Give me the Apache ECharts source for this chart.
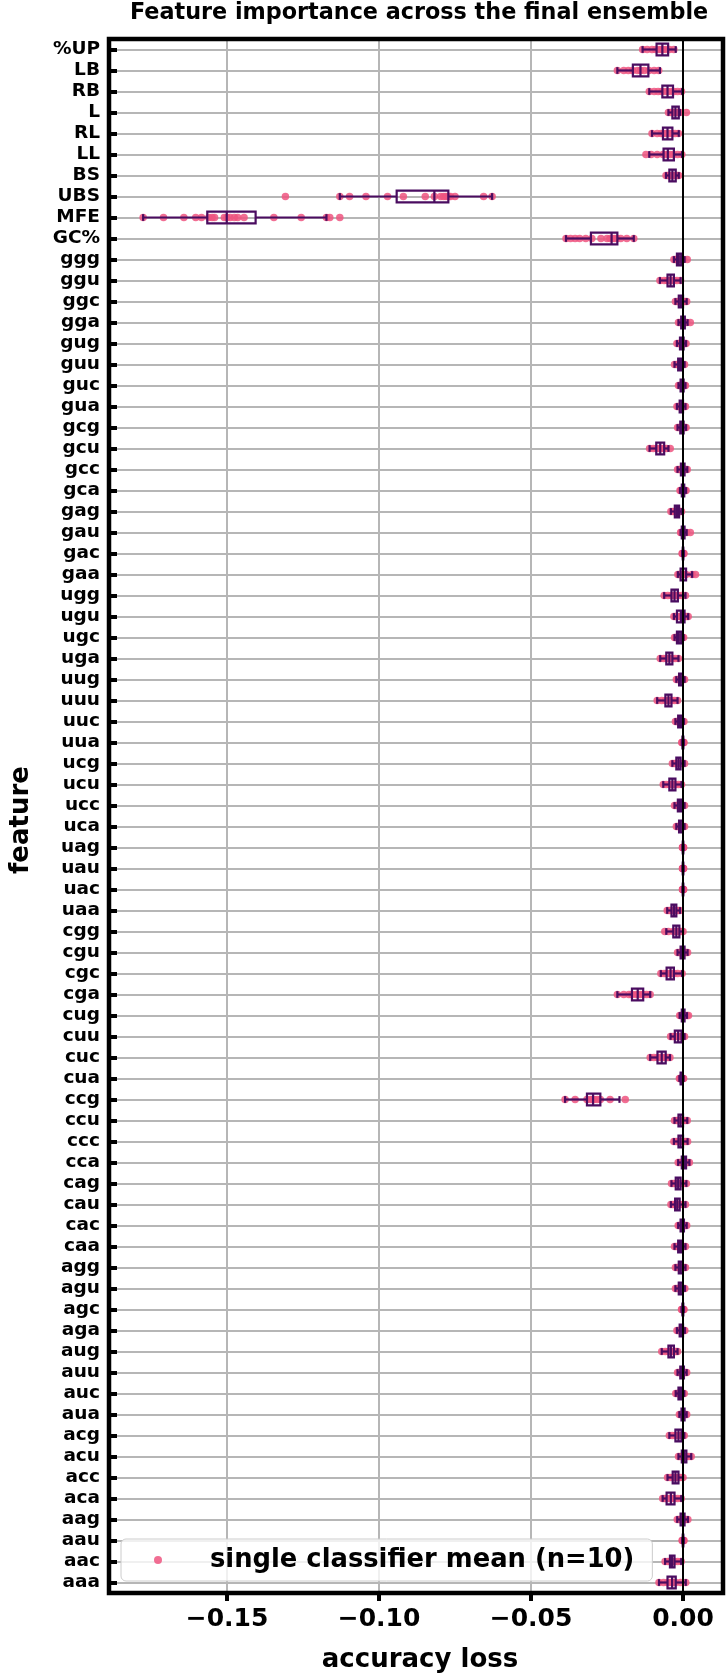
<!DOCTYPE html>
<html>
<head>
<meta charset="utf-8">
<script src="https://cdn.jsdelivr.net/npm/echarts@6/dist/echarts.min.js"></script>
<style>
  html, body { margin: 0; padding: 0; background: #fff; }
  #chart { width: 726px; height: 1678px; }
</style>
</head>
<body>
<div id="chart"></div>
<script>
const features = ['%UP', 'LB', 'RB', 'L', 'RL', 'LL', 'BS', 'UBS', 'MFE', 'GC%',
  'ggg', 'ggu', 'ggc', 'gga', 'gug', 'guu', 'guc', 'gua', 'gcg', 'gcu', 'gcc', 'gca',
  'gag', 'gau', 'gac', 'gaa', 'ugg', 'ugu', 'ugc', 'uga', 'uug', 'uuu', 'uuc', 'uua',
  'ucg', 'ucu', 'ucc', 'uca', 'uag', 'uau', 'uac', 'uaa', 'cgg', 'cgu', 'cgc', 'cga',
  'cug', 'cuu', 'cuc', 'cua', 'ccg', 'ccu', 'ccc', 'cca', 'cag', 'cau', 'cac', 'caa',
  'agg', 'agu', 'agc', 'aga', 'aug', 'auu', 'auc', 'aua', 'acg', 'acu', 'acc', 'aca',
  'aag', 'aau', 'aac', 'aaa']

// box statistics: [whisker low, Q1, median, Q3, whisker high]
const boxStats = [
  [-0.0133, -0.0087, -0.0068, -0.0049, -0.0024], // %UP
  [-0.0216, -0.0165, -0.0140, -0.0114, -0.0076], // LB
  [-0.0111, -0.0068, -0.0051, -0.0033, -0.0003], // RB
  [-0.0048, -0.0035, -0.0025, -0.0014, -0.0010], // L
  [-0.0102, -0.0066, -0.0051, -0.0035, -0.0014], // RL
  [-0.0111, -0.0064, -0.0050, -0.0030, -0.0003], // LL
  [-0.0056, -0.0045, -0.0035, -0.0024, -0.0014], // BS
  [-0.1129, -0.0942, -0.0818, -0.0772, -0.0628], // UBS
  [-0.1776, -0.1565, -0.1501, -0.1406, -0.1173], // MFE
  [-0.0385, -0.0303, -0.0235, -0.0216, -0.0162], // GC%
  [-0.0030, -0.0020, -0.0014, -0.0006, 0.0005],
  [-0.0076, -0.0051, -0.0041, -0.0030, -0.0008],
  [-0.0025, -0.0014, -0.0007, 0.0000, 0.0012],
  [-0.0015, -0.0006, 0.0000, 0.0006, 0.0015],
  [-0.0020, -0.0010, -0.0004, 0.0002, 0.0010],
  [-0.0028, -0.0016, -0.0010, -0.0004, 0.0005],
  [-0.0015, -0.0008, -0.0003, 0.0002, 0.0008],
  [-0.0020, -0.0011, -0.0005, 0.0000, 0.0008],
  [-0.0018, -0.0009, -0.0004, 0.0002, 0.0010],
  [-0.0110, -0.0088, -0.0075, -0.0062, -0.0048], // gcu
  [-0.0018, -0.0007, -0.0001, 0.0005, 0.0014],
  [-0.0010, -0.0004, 0.0000, 0.0004, 0.0010],
  [-0.0040, -0.0027, -0.0020, -0.0013, -0.0005],
  [-0.0008, -0.0004, 0.0000, 0.0005, 0.0012],
  [-0.0003, -0.0001, 0.0000, 0.0001, 0.0003],
  [-0.0017, -0.0008, 0.0000, 0.0010, 0.0030],
  [-0.0062, -0.0038, -0.0028, -0.0017, 0.0008], // ugg
  [-0.0030, -0.0020, -0.0007, 0.0005, 0.0017],
  [-0.0028, -0.0020, -0.0014, -0.0006, 0.0002],
  [-0.0075, -0.0055, -0.0045, -0.0035, -0.0015],
  [-0.0022, -0.0013, -0.0008, -0.0002, 0.0005],
  [-0.0085, -0.0058, -0.0048, -0.0038, -0.0018], // uuu
  [-0.0025, -0.0016, -0.0010, -0.0004, 0.0003],
  [-0.0004, -0.0002, 0.0000, 0.0001, 0.0003],
  [-0.0035, -0.0022, -0.0015, -0.0008, 0.0005],
  [-0.0065, -0.0045, -0.0035, -0.0025, -0.0005],
  [-0.0028, -0.0017, -0.0010, -0.0004, 0.0005],
  [-0.0022, -0.0013, -0.0008, -0.0002, 0.0005],
  [-0.0002, -0.0001, 0.0000, 0.0001, 0.0002],
  [-0.0002, -0.0001, 0.0000, 0.0001, 0.0002],
  [-0.0002, -0.0001, 0.0000, 0.0001, 0.0002],
  [-0.0052, -0.0038, -0.0030, -0.0022, -0.0010], // uaa
  [-0.0055, -0.0032, -0.0022, -0.0012, 0.0000],
  [-0.0018, -0.0008, -0.0003, 0.0005, 0.0015],
  [-0.0073, -0.0054, -0.0041, -0.0030, -0.0003],
  [-0.0216, -0.0168, -0.0149, -0.0131, -0.0108], // cga
  [-0.0011, -0.0004, 0.0000, 0.0005, 0.0013],
  [-0.0041, -0.0027, -0.0016, -0.0005, 0.0005],
  [-0.0108, -0.0084, -0.0070, -0.0057, -0.0043], // cuc
  [-0.0012, -0.0008, -0.0005, -0.0002, 0.0002],
  [-0.0388, -0.0316, -0.0296, -0.0272, -0.0209], // ccg
  [-0.0028, -0.0015, -0.0008, 0.0000, 0.0014],
  [-0.0030, -0.0015, -0.0008, 0.0000, 0.0015],
  [-0.0016, -0.0004, 0.0003, 0.0010, 0.0021],
  [-0.0038, -0.0024, -0.0016, -0.0008, 0.0011],
  [-0.0040, -0.0026, -0.0019, -0.0011, 0.0008],
  [-0.0016, -0.0008, -0.0003, 0.0003, 0.0012],
  [-0.0028, -0.0016, -0.0010, -0.0003, 0.0008],
  [-0.0025, -0.0014, -0.0008, -0.0002, 0.0008],
  [-0.0025, -0.0014, -0.0008, -0.0002, 0.0006],
  [-0.0005, -0.0002, -0.0001, 0.0001, 0.0003],
  [-0.0020, -0.0011, -0.0006, 0.0000, 0.0006],
  [-0.0070, -0.0048, -0.0040, -0.0030, -0.0018], // aug
  [-0.0018, -0.0009, -0.0004, 0.0003, 0.0012],
  [-0.0024, -0.0015, -0.0010, -0.0004, 0.0004],
  [-0.0012, -0.0005, 0.0000, 0.0005, 0.0012],
  [-0.0045, -0.0025, -0.0015, -0.0005, 0.0004],
  [-0.0015, -0.0004, 0.0004, 0.0011, 0.0027],
  [-0.0051, -0.0034, -0.0025, -0.0015, 0.0000],
  [-0.0067, -0.0054, -0.0040, -0.0028, -0.0006],
  [-0.0019, -0.0008, -0.0002, 0.0005, 0.0016],
  [-0.0003, -0.0001, 0.0000, 0.0001, 0.0003],
  [-0.0059, -0.0043, -0.0036, -0.0028, -0.0006],
  [-0.0079, -0.0051, -0.0036, -0.0024, 0.0009]  // aaa
]

// single classifier means (pink dots), one list per feature
const classifierMeans = [
  [-0.0133, -0.0118, -0.0102, -0.0090, -0.0080, -0.0072, -0.0065, -0.0056, -0.0045, -0.0030],
  [-0.0216, -0.0195, -0.0180, -0.0166, -0.0150, -0.0140, -0.0128, -0.0112, -0.0095, -0.0080],
  [-0.0111, -0.0095, -0.0082, -0.0070, -0.0060, -0.0050, -0.0040, -0.0030, -0.0018, -0.0005],
  [-0.0048, -0.0040, -0.0034, -0.0030, -0.0026, -0.0022, -0.0018, -0.0014, -0.0010, 0.0011],
  [-0.0102, -0.0085, -0.0072, -0.0064, -0.0056, -0.0050, -0.0044, -0.0036, -0.0026, -0.0015],
  [-0.0122, -0.0105, -0.0085, -0.0066, -0.0058, -0.0050, -0.0042, -0.0032, -0.0018, -0.0004],
  [-0.0056, -0.0050, -0.0045, -0.0041, -0.0037, -0.0033, -0.0029, -0.0024, -0.0019, -0.0014],
  [-0.1308, -0.1129, -0.1097, -0.1043, -0.0972, -0.0920, -0.0848, -0.0818, -0.0797, -0.0788, -0.0780, -0.0772, -0.0765, -0.0750, -0.0656, -0.0628],
  [-0.1776, -0.1709, -0.1642, -0.1603, -0.1584, -0.1560, -0.1549, -0.1541, -0.1509, -0.1500, -0.1490, -0.1476, -0.1465, -0.1444, -0.1346, -0.1256, -0.1173, -0.1162, -0.1129],
  [-0.0385, -0.0370, -0.0355, -0.0340, -0.0320, -0.0300, -0.0270, -0.0250, -0.0240, -0.0232, -0.0225, -0.0218, -0.0205, -0.0185, -0.0162],
  [-0.0030, -0.0024, -0.0020, -0.0017, -0.0015, -0.0013, -0.0010, -0.0006, 0.0002, 0.0014],
  [-0.0076, -0.0062, -0.0052, -0.0047, -0.0043, -0.0040, -0.0036, -0.0030, -0.0020, -0.0008],
  [-0.0025, -0.0018, -0.0014, -0.0011, -0.0008, -0.0006, -0.0003, 0.0000, 0.0006, 0.0012],
  [-0.0015, -0.0009, -0.0006, -0.0003, -0.0001, 0.0001, 0.0003, 0.0006, 0.0012, 0.0024],
  [-0.0020, -0.0014, -0.0010, -0.0007, -0.0005, -0.0003, 0.0000, 0.0002, 0.0006, 0.0010],
  [-0.0028, -0.0021, -0.0016, -0.0013, -0.0011, -0.0009, -0.0006, -0.0004, 0.0000, 0.0005],
  [-0.0015, -0.0011, -0.0008, -0.0006, -0.0004, -0.0002, 0.0000, 0.0002, 0.0005, 0.0008],
  [-0.0020, -0.0015, -0.0011, -0.0008, -0.0006, -0.0004, -0.0002, 0.0000, 0.0004, 0.0008],
  [-0.0018, -0.0013, -0.0009, -0.0007, -0.0005, -0.0003, -0.0001, 0.0002, 0.0006, 0.0010],
  [-0.0110, -0.0098, -0.0088, -0.0082, -0.0077, -0.0073, -0.0068, -0.0062, -0.0054, -0.0042],
  [-0.0018, -0.0012, -0.0007, -0.0004, -0.0002, 0.0000, 0.0002, 0.0005, 0.0009, 0.0014],
  [-0.0010, -0.0007, -0.0004, -0.0002, -0.0001, 0.0001, 0.0002, 0.0004, 0.0007, 0.0010],
  [-0.0040, -0.0033, -0.0027, -0.0024, -0.0021, -0.0019, -0.0016, -0.0013, -0.0009, -0.0005],
  [-0.0008, -0.0006, -0.0004, -0.0002, -0.0001, 0.0001, 0.0003, 0.0005, 0.0012, 0.0024],
  [-0.0003, -0.0002, -0.0001, -0.0001, 0.0000, 0.0000, 0.0001, 0.0001, 0.0002, 0.0003],
  [-0.0017, -0.0012, -0.0008, -0.0004, -0.0001, 0.0002, 0.0006, 0.0010, 0.0030, 0.0041],
  [-0.0062, -0.0050, -0.0038, -0.0033, -0.0029, -0.0026, -0.0022, -0.0017, -0.0005, 0.0008],
  [-0.0030, -0.0024, -0.0020, -0.0014, -0.0009, -0.0005, 0.0000, 0.0005, 0.0011, 0.0017],
  [-0.0028, -0.0024, -0.0020, -0.0017, -0.0015, -0.0013, -0.0010, -0.0006, -0.0002, 0.0002],
  [-0.0075, -0.0064, -0.0055, -0.0050, -0.0046, -0.0043, -0.0040, -0.0035, -0.0026, -0.0015],
  [-0.0022, -0.0017, -0.0013, -0.0010, -0.0009, -0.0007, -0.0005, -0.0002, 0.0001, 0.0005],
  [-0.0085, -0.0070, -0.0058, -0.0053, -0.0049, -0.0046, -0.0043, -0.0038, -0.0028, -0.0018],
  [-0.0025, -0.0020, -0.0016, -0.0013, -0.0011, -0.0009, -0.0007, -0.0004, -0.0001, 0.0003],
  [-0.0004, -0.0003, -0.0002, -0.0001, 0.0000, 0.0000, 0.0001, 0.0001, 0.0002, 0.0003],
  [-0.0035, -0.0028, -0.0022, -0.0018, -0.0016, -0.0014, -0.0011, -0.0008, -0.0002, 0.0005],
  [-0.0065, -0.0055, -0.0045, -0.0040, -0.0036, -0.0033, -0.0030, -0.0025, -0.0015, -0.0005],
  [-0.0028, -0.0022, -0.0017, -0.0014, -0.0011, -0.0009, -0.0007, -0.0004, 0.0000, 0.0005],
  [-0.0022, -0.0017, -0.0013, -0.0011, -0.0009, -0.0007, -0.0005, -0.0002, 0.0001, 0.0005],
  [-0.0002, -0.0001, -0.0001, 0.0000, 0.0000, 0.0000, 0.0000, 0.0001, 0.0001, 0.0002],
  [-0.0002, -0.0001, -0.0001, 0.0000, 0.0000, 0.0000, 0.0000, 0.0001, 0.0001, 0.0002],
  [-0.0002, -0.0001, -0.0001, 0.0000, 0.0000, 0.0000, 0.0000, 0.0001, 0.0001, 0.0002],
  [-0.0052, -0.0045, -0.0038, -0.0034, -0.0031, -0.0029, -0.0026, -0.0022, -0.0016, -0.0010],
  [-0.0060, -0.0048, -0.0032, -0.0027, -0.0024, -0.0020, -0.0017, -0.0012, -0.0006, 0.0000],
  [-0.0018, -0.0012, -0.0008, -0.0005, -0.0003, -0.0001, 0.0002, 0.0005, 0.0010, 0.0015],
  [-0.0073, -0.0062, -0.0054, -0.0048, -0.0043, -0.0039, -0.0035, -0.0030, -0.0018, -0.0003],
  [-0.0216, -0.0195, -0.0178, -0.0168, -0.0155, -0.0148, -0.0140, -0.0131, -0.0120, -0.0108],
  [-0.0011, -0.0007, -0.0004, -0.0002, 0.0000, 0.0002, 0.0004, 0.0006, 0.0013, 0.0018],
  [-0.0041, -0.0034, -0.0027, -0.0022, -0.0018, -0.0015, -0.0011, -0.0005, 0.0000, 0.0005],
  [-0.0108, -0.0096, -0.0084, -0.0078, -0.0072, -0.0068, -0.0063, -0.0057, -0.0050, -0.0043],
  [-0.0012, -0.0010, -0.0008, -0.0007, -0.0006, -0.0004, -0.0003, -0.0002, 0.0000, 0.0002],
  [-0.0388, -0.0355, -0.0316, -0.0305, -0.0298, -0.0292, -0.0282, -0.0272, -0.0240, -0.0190],
  [-0.0028, -0.0021, -0.0015, -0.0012, -0.0009, -0.0007, -0.0004, 0.0000, 0.0007, 0.0014],
  [-0.0030, -0.0022, -0.0015, -0.0012, -0.0009, -0.0007, -0.0004, 0.0000, 0.0008, 0.0015],
  [-0.0016, -0.0010, -0.0004, -0.0001, 0.0002, 0.0004, 0.0006, 0.0010, 0.0015, 0.0021],
  [-0.0038, -0.0031, -0.0024, -0.0020, -0.0017, -0.0015, -0.0012, -0.0008, 0.0002, 0.0011],
  [-0.0040, -0.0033, -0.0026, -0.0023, -0.0020, -0.0018, -0.0015, -0.0011, -0.0002, 0.0008],
  [-0.0016, -0.0012, -0.0008, -0.0005, -0.0004, -0.0002, 0.0000, 0.0003, 0.0007, 0.0012],
  [-0.0028, -0.0022, -0.0016, -0.0013, -0.0011, -0.0009, -0.0006, -0.0003, 0.0002, 0.0008],
  [-0.0025, -0.0019, -0.0014, -0.0011, -0.0009, -0.0007, -0.0005, -0.0002, 0.0003, 0.0008],
  [-0.0025, -0.0019, -0.0014, -0.0011, -0.0009, -0.0007, -0.0005, -0.0002, 0.0002, 0.0006],
  [-0.0005, -0.0003, -0.0002, -0.0002, -0.0001, -0.0001, 0.0000, 0.0001, 0.0002, 0.0003],
  [-0.0020, -0.0015, -0.0011, -0.0008, -0.0007, -0.0005, -0.0003, 0.0000, 0.0003, 0.0006],
  [-0.0070, -0.0058, -0.0048, -0.0044, -0.0041, -0.0039, -0.0035, -0.0030, -0.0024, -0.0018],
  [-0.0018, -0.0013, -0.0009, -0.0006, -0.0005, -0.0003, 0.0000, 0.0003, 0.0007, 0.0012],
  [-0.0024, -0.0019, -0.0015, -0.0012, -0.0011, -0.0009, -0.0007, -0.0004, 0.0000, 0.0004],
  [-0.0012, -0.0008, -0.0005, -0.0003, -0.0001, 0.0001, 0.0003, 0.0005, 0.0008, 0.0012],
  [-0.0045, -0.0035, -0.0025, -0.0020, -0.0016, -0.0014, -0.0010, -0.0005, 0.0000, 0.0004],
  [-0.0015, -0.0009, -0.0004, 0.0000, 0.0003, 0.0005, 0.0008, 0.0011, 0.0018, 0.0027],
  [-0.0051, -0.0042, -0.0034, -0.0030, -0.0027, -0.0023, -0.0020, -0.0015, -0.0008, 0.0000],
  [-0.0067, -0.0060, -0.0054, -0.0047, -0.0042, -0.0038, -0.0034, -0.0028, -0.0018, -0.0006],
  [-0.0019, -0.0013, -0.0008, -0.0005, -0.0003, -0.0001, 0.0002, 0.0005, 0.0010, 0.0016],
  [-0.0003, -0.0002, -0.0001, -0.0001, 0.0000, 0.0000, 0.0001, 0.0001, 0.0002, 0.0003],
  [-0.0059, -0.0050, -0.0043, -0.0039, -0.0037, -0.0035, -0.0032, -0.0028, -0.0018, -0.0006],
  [-0.0079, -0.0064, -0.0051, -0.0044, -0.0038, -0.0034, -0.0030, -0.0024, -0.0008, 0.0009]
]

const xTicks = [-0.15, -0.10, -0.05, 0.00]

const FONT = 'DejaVu Sans'
const BOX_COLOR = '#4a0c60'
const DOT_COLOR = '#ef5580'
const GRID = { left: 109, top: 39, width: 614, height: 1554 }

const myChart = echarts.init(document.getElementById('chart'))

const boxData = boxStats.map((s, i) => [i].concat(s))
const dotData = []
classifierMeans.forEach((list, i) => {
  list.forEach(v => dotData.push([v, i]))
})

// only the round ticks get a label, with a real minus sign
const fmtTick = v => {
  if (!xTicks.some(t => Math.abs(t - v) < 1e-9)) return ''
  return (v < 0 ? '\u2212' : '') + Math.abs(v).toFixed(2)
}

const option = {
  animation: false,
  title: {
    text: 'Feature importance across the final ensemble',
    left: 130,
    top: 2,
    padding: 0,
    textStyle: { fontFamily: FONT, fontWeight: 'bold', fontSize: 22.3, color: '#000' }
  },
  legend: {
    data: [{ name: 'single classifier mean (n=10)', icon: 'circle' }],
    left: 121,
    top: 1539,
    z: 20,
    padding: [6, 18, 6, 33],
    itemWidth: 40,
    itemHeight: 8,
    backgroundColor: 'rgba(255,255,255,0.8)',
    borderColor: '#cccccc',
    borderWidth: 1,
    borderRadius: 5,
    textStyle: {
      fontFamily: FONT, fontWeight: 'bold', fontSize: 25.8, color: '#000',
      lineHeight: 30, padding: [0, 0, 0, 27]
    }
  },
  grid: GRID,
  xAxis: {
    type: 'value',
    min: -0.1862,
    max: 0.01315,
    splitNumber: 4,
    name: 'accuracy loss',
    nameLocation: 'middle',
    nameGap: 54,
    nameTextStyle: { fontFamily: FONT, fontWeight: 'bold', fontSize: 26, color: '#000' },
    axisLine: { show: false, onZero: false },
    axisTick: { show: true, customValues: xTicks, length: 8, lineStyle: { color: '#000', width: 4 } },
    axisLabel: {
      customValues: xTicks, margin: 14, formatter: fmtTick,
      fontFamily: FONT, fontWeight: 'bold', fontSize: 25, color: '#000'
    },
    splitLine: { show: true, lineStyle: { color: '#b6b6b6', width: 2 } }
  },
  yAxis: {
    type: 'category',
    data: features,
    inverse: true,
    name: 'feature',
    nameLocation: 'middle',
    nameGap: 83,
    nameTextStyle: {
      fontFamily: FONT, fontWeight: 'bold', fontSize: 26, color: '#000',
      padding: [0, 8, 0, 0]
    },
    axisLine: { show: false, onZero: false },
    axisTick: { show: true, alignWithLabel: true, length: 8, lineStyle: { color: '#000', width: 4 } },
    axisLabel: {
      margin: 17, interval: 0,
      fontFamily: FONT, fontWeight: 'bold', fontSize: 18.5, color: '#000'
    },
    splitLine: { show: false }
  },
  graphic: [{
    type: 'rect',
    z: 100,
    silent: true,
    shape: { x: GRID.left, y: GRID.top, width: GRID.width, height: GRID.height },
    style: { fill: 'none', stroke: '#000', lineWidth: 4.5 }
  }],
  series: [
    {
      // horizontal grid lines through every feature
      type: 'line',
      data: [],
      z: 1,
      silent: true,
      markLine: {
        z: 1,
        silent: true,
        symbol: ['none', 'none'],
        label: { show: false },
        lineStyle: { color: '#b6b6b6', width: 2, type: 'solid' },
        data: features.map((f, i) => ({ yAxis: i }))
      }
    },
    {
      name: 'single classifier mean (n=10)',
      type: 'scatter',
      z: 2,
      symbolSize: 7.5,
      itemStyle: { color: DOT_COLOR, opacity: 0.85 },
      data: dotData
    },
    {
      type: 'custom',
      z: 3,
      encode: { x: [1, 2, 3, 4, 5], y: 0 },
      data: boxData,
      renderItem: function (params, api) {
        const cat = api.value(0)
        const lo = api.coord([api.value(1), cat])
        const q1 = api.coord([api.value(2), cat])
        const md = api.coord([api.value(3), cat])
        const q3 = api.coord([api.value(4), cat])
        const hi = api.coord([api.value(5), cat])
        const band = api.size([0, 1])[1]
        const h = band * 0.28
        const c = band * 0.16
        const y = md[1]
        const style = { stroke: BOX_COLOR, lineWidth: 2.2, fill: 'none' }
        return {
          type: 'group',
          children: [
            { type: 'line', shape: { x1: lo[0], y1: y, x2: q1[0], y2: y }, style },
            { type: 'line', shape: { x1: q3[0], y1: y, x2: hi[0], y2: y }, style },
            { type: 'line', shape: { x1: lo[0], y1: y - c, x2: lo[0], y2: y + c }, style },
            { type: 'line', shape: { x1: hi[0], y1: y - c, x2: hi[0], y2: y + c }, style },
            { type: 'rect', shape: { x: q1[0], y: y - h, width: q3[0] - q1[0], height: 2 * h }, style },
            { type: 'line', shape: { x1: md[0], y1: y - h, x2: md[0], y2: y + h }, style }
          ]
        }
      }
    },
    {
      // zero line
      type: 'line',
      data: [],
      z: 5,
      silent: true,
      markLine: {
        z: 5,
        silent: true,
        symbol: ['none', 'none'],
        label: { show: false },
        lineStyle: { color: '#000', width: 2, type: 'solid' },
        data: [{ xAxis: 0 }]
      }
    }
  ]
}

option && myChart.setOption(option)
</script>
</body>
</html>
